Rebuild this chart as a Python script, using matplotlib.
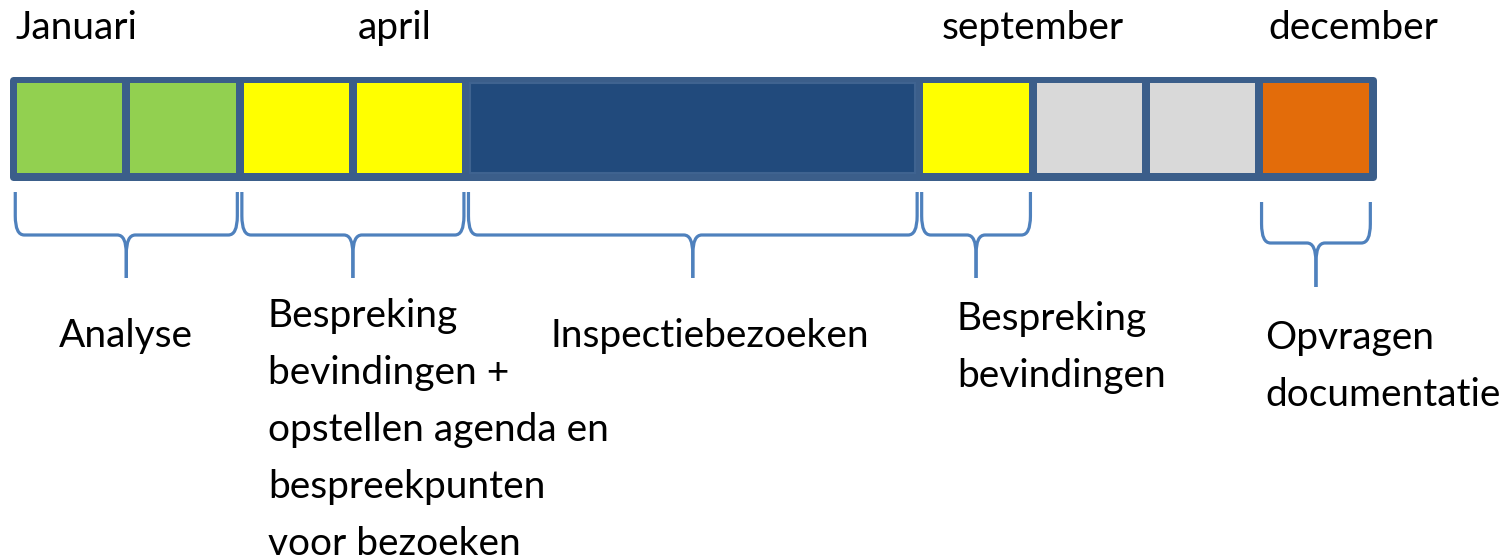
import matplotlib.pyplot as plt
from matplotlib.patches import Rectangle, PathPatch
from matplotlib.path import Path

plt.rcParams['font.family'] = ['Lato', 'DejaVu Sans']

# month labels above the bar (index 0 = januari)
month_names = ['Januari', 'april', 'september', 'december']
month_index = [0, 3, 8, 11]

# blocks in the bar: start month, length in months, kind
block_start = [0, 1, 2, 3, 4, 8, 9, 10, 11]
block_len = [1, 1, 1, 1, 4, 1, 1, 1, 1]
block_kind = ['analyse', 'analyse', 'bespreking', 'bespreking', 'inspectie',
              'bespreking', 'leeg', 'leeg', 'opvragen']

# phases marked with a brace under the bar
phase_start = [0, 2, 4, 8, 11]
phase_end = [2, 4, 8, 9, 12]
phase_label = ['Analyse',
               'Bespreking\nbevindingen +\nopstellen agenda en\nbespreekpunten\nvoor bezoeken',
               'Inspectiebezoeken',
               'Bespreking\nbevindingen',
               'Opvragen\ndocumentatie']

# styling / layout
FILL = {'analyse': '#92d050', 'bespreking': '#ffff00', 'inspectie': '#214a7c',
        'leeg': '#d9d9d9', 'opvragen': '#e36c0a'}
BORDER = '#3b5e8a'
BRACE = '#4f81bd'
PX = 113.3          # pixels per month
X0 = 13             # pixel x of month 0
FS = 28
LINE = 57           # pixels between text lines
PT = 0.72           # points per pixel at dpi 100

month_dx = [0.02, 0.04, 0.2, 0.08]
brace_y = [(192, 235, 278)] * 4 + [(202, 243, 287)]
label_x = [1.0, 2.25, 6.15, 8.33, 11.05]
label_ha = ['center', 'left', 'center', 'left', 'left']
label_y = [347, 327, 347, 330, 349]

fig = plt.figure(figsize=(15.08, 5.59), dpi=100)
ax = fig.add_axes([0, 0, 1, 1])
ax.set_xlim(-X0 / PX, (1508 - X0) / PX)
ax.set_ylim(559, 0)
ax.axis('off')

# frame of the bar
ax.add_patch(Rectangle((0, 79.5), 12, 97, facecolor=BORDER, edgecolor=BORDER,
                       lw=7 * PT, joinstyle='round'))

gap = 4 / PX
for s, n, k in zip(block_start, block_len, block_kind):
    ec = '#3f6390' if k == 'inspectie' else 'none'
    ax.add_patch(Rectangle((s + gap, 83), n - 2 * gap, 90, facecolor=FILL[k],
                           edgecolor=ec, lw=1.5))


def brace(x0, x1, top, mid, tip):
    rx, ry = 9 / PX, 19
    xc = (x0 + x1) / 2
    codes = [Path.MOVETO, Path.LINETO, Path.CURVE3, Path.CURVE3, Path.LINETO,
             Path.CURVE3, Path.CURVE3, Path.LINETO]
    for a, sg in ((x0, 1), (x1, -1)):
        verts = [(a, top), (a, mid - ry), (a, mid), (a + sg * rx, mid),
                 (xc - sg * rx, mid), (xc, mid), (xc, mid + ry), (xc, tip)]
        ax.add_patch(PathPatch(Path(verts, codes), fill=False, edgecolor=BRACE,
                               lw=3.2 * PT, capstyle='butt'))


for s, e, (top, mid, tip) in zip(phase_start, phase_end, brace_y):
    brace(s + 0.02, e - 0.02, top, mid, tip)

for name, m, dx in zip(month_names, month_index, month_dx):
    ax.text(m + dx, 39, name, fontsize=FS, ha='left', va='baseline')

for lab, x, ha, y in zip(phase_label, label_x, label_ha, label_y):
    for i, line in enumerate(lab.split('\n')):
        ax.text(x, y + i * LINE, line, fontsize=FS, ha=ha, va='baseline')

fig.savefig('out.png', dpi=100)
